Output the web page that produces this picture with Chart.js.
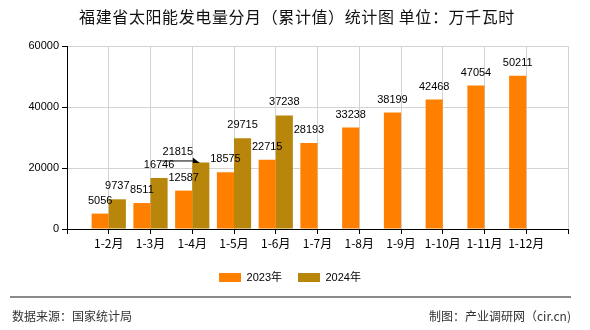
<!DOCTYPE html>
<html><head><meta charset="utf-8">
<script src="https://cdn.jsdelivr.net/npm/chart.js@4"></script>
<style>
html,body{margin:0;padding:0;background:#fff;}
#wrap{position:relative;width:590px;height:330px;overflow:hidden;}
#c{position:absolute;left:0;top:0;}
#title{position:absolute;left:0;top:6px;width:594px;text-align:center;font:16px "Noto Sans CJK SC";letter-spacing:0.6px;color:#111;line-height:20px;white-space:nowrap;}
.foot{position:absolute;top:308px;font:12px "Noto Sans CJK SC";color:#333;line-height:16px;white-space:nowrap;}
#line{position:absolute;left:10px;top:296px;width:561px;height:0;border-top:2px solid #8a8a8a;}
</style></head><body>
<div id="wrap">
<canvas id="c" width="590" height="330"></canvas>
<div id="title">福建省太阳能发电量分月（累计值）统计图 单位：万千瓦时</div>
<div id="line"></div>
<div class="foot" style="left:12px">数据来源：国家统计局</div>
<div class="foot" style="right:19px">制图：产业调研网（cir.cn)</div>
</div>
<script>
const categories = ['1-2月','1-3月','1-4月','1-5月','1-6月','1-7月','1-8月','1-9月','1-10月','1-11月','1-12月'];
const values2023 = [5056,8511,12587,18575,22715,28193,33238,38199,42468,47054,50211];
const values2024 = [9737,16746,21815,29715,37238];
const seriesNames = ['2023年','2024年'];
const yTicks = [0,20000,40000,60000];

const labels = [''].concat(categories, ['']);
const pad = arr => [null].concat(categories.map((_, i) => i < arr.length ? arr[i] : null), [null]);

const valueLabels = {
  id: 'valueLabels',
  afterDatasetsDraw(chart) {
    const ctx = chart.ctx;
    ctx.save();
    ctx.font = '11px "Liberation Sans"';
    ctx.fillStyle = '#000';
    ctx.strokeStyle = '#000';
    ctx.textAlign = 'center';
    ctx.textBaseline = 'middle';
    chart.data.datasets.forEach((ds, di) => {
      const meta = chart.getDatasetMeta(di);
      meta.data.forEach((bar, i) => {
        const v = ds.data[i];
        if (v == null) return;
        if (di === 1 && i === 3) {
          const lx = bar.x - 23, ly = bar.y - 10;
          ctx.fillText(String(v), lx, ly);
          ctx.lineWidth = 1;
          ctx.beginPath();
          ctx.moveTo(lx - 16, bar.y - 1.5);
          ctx.lineTo(bar.x - 6, bar.y - 1.5);
          ctx.stroke();
          ctx.beginPath();
          ctx.moveTo(bar.x - 1, bar.y + 0.5);
          ctx.lineTo(bar.x - 8, bar.y - 5);
          ctx.lineTo(bar.x - 8, bar.y + 0.5);
          ctx.closePath();
          ctx.fill();
        } else {
          ctx.fillText(String(v), bar.x, bar.y - 13);
        }
      });
    });
    ctx.restore();
  }
};

new Chart(document.getElementById('c'), {
  type: 'bar',
  data: {
    labels: labels,
    datasets: [
      { label: seriesNames[0], data: pad(values2023), backgroundColor: '#FF8000', categoryPercentage: 0.82, barPercentage: 1.0 },
      { label: seriesNames[1], data: pad(values2024), backgroundColor: '#B8860B', categoryPercentage: 0.82, barPercentage: 1.0 }
    ]
  },
  options: {
    responsive: false,
    animation: false,
    events: [],
    layout: { padding: { left: 12, right: 22, top: 46, bottom: 37 } },
    plugins: {
      title: { display: false },
      tooltip: { enabled: false },
      legend: {
        position: 'bottom',
        labels: {
          boxWidth: 22, boxHeight: 9, padding: 16,
          font: { size: 11, family: '"Liberation Sans", "Noto Sans CJK SC"' },
          color: '#000'
        }
      }
    },
    scales: {
      x: {
        offset: false,
        grid: { color: '#d3d3d3', tickColor: '#000', tickLength: 5, offset: false },
        border: { color: '#000', width: 1 },
        ticks: { font: { size: 12, family: '"Noto Sans CJK SC"' }, color: '#000', padding: 2, maxRotation: 0, autoSkip: false },
        afterFit(s) { s.height = 27; }
      },
      y: {
        min: 0, max: 60000,
        ticks: { font: { size: 11, family: '"Liberation Sans"' }, color: '#000', padding: 3, callback: v => String(v) },
        afterBuildTicks(s) { s.ticks = yTicks.map(v => ({ value: v })); },
        grid: { color: '#d3d3d3', tickColor: '#000', tickLength: 5 },
        border: { color: '#000', width: 1 },
        afterFit(s) { s.width = 55; }
      }
    }
  },
  plugins: [valueLabels]
});
</script>
</body></html>
